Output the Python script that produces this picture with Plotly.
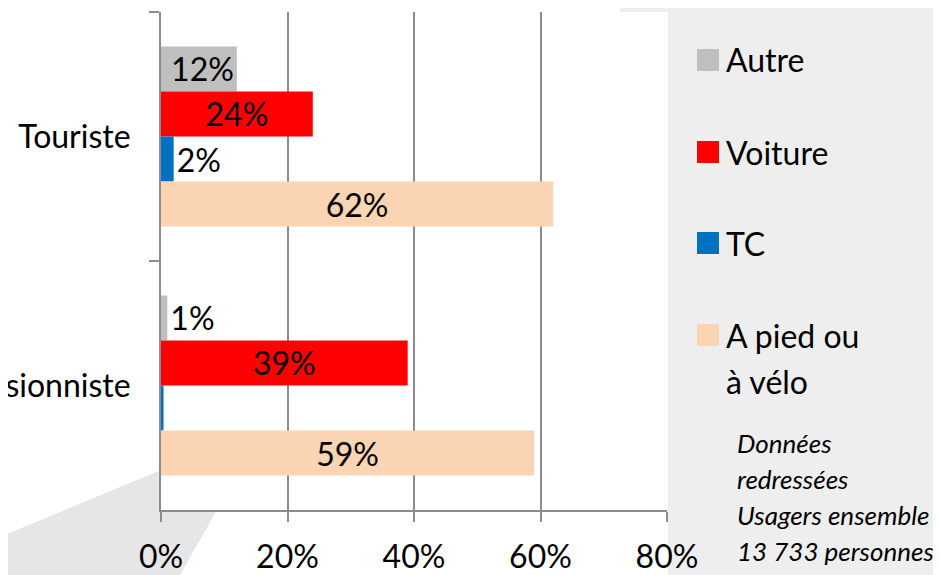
import plotly.graph_objects as go

# données
categories = ["Touriste", "Excursionniste"]
modes = ["Autre", "Voiture", "TC", "A pied ou à vélo"]
autre = [12, 1]
voiture = [24, 39]
tc = [2, 0.4]
pied_velo = [62, 59]
labels_autre = ["12%", "1%"]
labels_voiture = ["24%", "39%"]
labels_tc = ["2%", ""]
labels_pied = ["62%", "59%"]
note_lines = ["Données", "redressées", "Usagers ensemble", "13 733 personnes"]

colors = ["#bfbfbf", "#ff0000", "#0070c0", "#fbd4b4"]
FONT = "Lato"
FS = 32

# la page ajoute une marge de 8 px autour de la figure
OFF = 8
W, H = 941 - OFF, 575 - OFF
# zone de tracé en pixels (coordonnées de l'image de référence)
L, R, T, B = 161, 667, 12, 510


def px(x):
    return (x - L) / (R - L)


def py(y):
    return (B - y) / (B - T)


series = [
    (autre, labels_autre, ["inside", "outside"], "end"),
    (voiture, labels_voiture, ["inside", "inside"], "middle"),
    (tc, labels_tc, ["outside", "outside"], "middle"),
    (pied_velo, labels_pied, ["inside", "inside"], "middle"),
]

fig = go.Figure()
for name, color, (vals, txt, pos, anchor) in zip(modes, colors, series):
    fig.add_trace(go.Bar(
        y=categories, x=vals, name=name, orientation="h",
        marker=dict(color=color, line=dict(width=0)),
        text=txt, textposition=pos, insidetextanchor=anchor,
        constraintext="none", cliponaxis=False,
        textfont=dict(family=FONT, size=FS, color="black"),
        showlegend=False,
    ))

shapes = []
# fond gris à droite
shapes.append(dict(
    type="path", xref="paper", yref="paper", layer="below",
    path=f"M{px(620)},{py(0)} L{px(941)},{py(0)} L{px(941)},{py(575)} L{px(668)},{py(575)} "
         f"L{px(668)},{py(12)} L{px(620)},{py(12)} Z",
    fillcolor="#eeeeee", line=dict(width=0)))
# bande diagonale en bas à gauche
shapes.append(dict(
    type="path", xref="paper", yref="paper", layer="below",
    path=f"M{px(0)},{py(537)} L{px(161)},{py(470)} L{px(161)},{py(510)} "
         f"L{px(217)},{py(510)} L{px(180)},{py(575)} L{px(0)},{py(575)} Z",
    fillcolor="#e6e6e6", line=dict(width=0)))

annotations = []
# légende manuelle
legend_y = [60, 152, 243, 335]
for name, color, yc in zip(modes, colors, legend_y):
    shapes.append(dict(
        type="rect", xref="paper", yref="paper",
        x0=px(697), x1=px(719), y0=py(yc - 11), y1=py(yc + 11),
        fillcolor=color, line=dict(width=0)))
    lines = ["A pied ou", "à vélo"] if name == "A pied ou à vélo" else [name]
    for i, line in enumerate(lines):
        annotations.append(dict(
            xref="paper", yref="paper", x=px(724), y=py(yc + 46 * i),
            xanchor="left", yanchor="middle", text=line, showarrow=False,
            font=dict(family=FONT, size=FS, color="black")))

# note
for i, line in enumerate(note_lines):
    annotations.append(dict(
        xref="paper", yref="paper", x=px(735), y=py(443 + 36 * i),
        xanchor="left", yanchor="middle", text=f"<i>{line}</i>", showarrow=False,
        font=dict(family=FONT, size=26, color="black")))

fig.update_layout(
    width=W, height=H,
    margin=dict(l=L - OFF, r=941 - R, t=T - OFF, b=575 - B, pad=0, autoexpand=False),
    paper_bgcolor="white", plot_bgcolor="white",
    barmode="group", bargap=0.277, bargroupgap=0,
    font=dict(family=FONT, size=FS, color="black"),
    shapes=shapes, annotations=annotations,
    xaxis=dict(
        range=[0, 80], dtick=20, ticksuffix="%", showgrid=True,
        gridcolor="#8c8c8c", gridwidth=2, zeroline=False, automargin=False,
        showline=True, linecolor="#8c8c8c", linewidth=2,
        ticks="outside", ticklen=10, tickwidth=2, tickcolor="#8c8c8c",
        ticklabelstandoff=8, fixedrange=True,
        tickfont=dict(family=FONT, size=FS),
    ),
    yaxis=dict(
        autorange="reversed", automargin=False, showgrid=False,
        showline=True, linecolor="#8c8c8c", linewidth=2,
        ticks="outside", ticklen=10, tickwidth=2, tickcolor="#8c8c8c",
        tickson="boundaries", ticklabelstandoff=22,
        tickfont=dict(family=FONT, size=FS),
    ),
)

fig.write_html("out.html", config={"displayModeBar": False})
